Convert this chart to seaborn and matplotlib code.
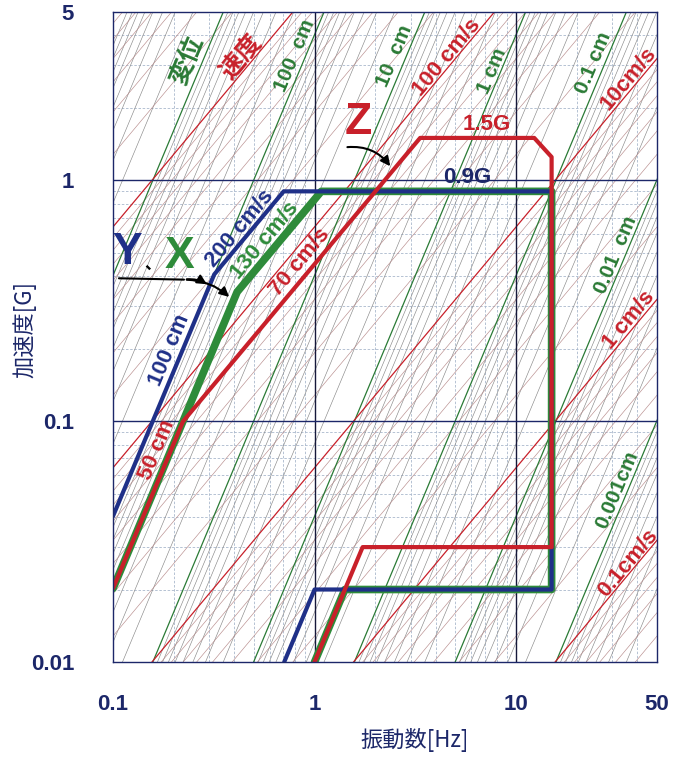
import numpy as np
import pandas as pd
import matplotlib
matplotlib.use("Agg")
import matplotlib.pyplot as plt
import seaborn as sns

# ---------------- data ----------------
x_ticks = [0.1, 1, 10, 50]
x_tick_labels = ["0.1", "1", "10", "50"]
y_ticks = [0.01, 0.1, 1, 5]
y_tick_labels = ["0.01", "0.1", "1", "5"]

# iso-displacement (cm) and iso-velocity (cm/s) reference lines
disp_levels = [1000, 100, 10, 1, 0.1, 0.01, 0.001]
vel_levels = [1000, 100, 10, 1, 0.1]
disp_minor_decades = [1e-5, 1e-4, 1e-3, 1e-2, 1e-1, 1, 10, 100, 1000]
vel_minor_decades = [1e-3, 1e-2, 1e-1, 1, 10, 100, 1000]
minor_mult = [2, 3, 4, 5, 6, 7, 8, 9]

# test envelopes (frequency Hz, acceleration G)
y_freq = [0.1, 0.318, 0.703, 15, 15, 1.0, 0.707]
y_acc = [0.0403, 0.407, 0.9, 0.9, 0.02, 0.02, 0.01]
x_freq = [0.1, 0.413, 1.08, 15, 15, 1.414, 1.0]
x_acc = [0.0202, 0.344, 0.9, 0.9, 0.02, 0.02, 0.01]
z_freq = [0.1, 0.2226, 3.34, 12.3, 15, 15, 1.732, 1.0]
z_acc = [0.0202, 0.0998, 1.5, 1.5, 1.25, 0.03, 0.03, 0.01]

G = 980.665  # cm/s^2
NAVY = "#1c2769"
GREEN = "#2a7a35"
RED = "#c8202a"
BLUE = "#1f3088"
XGREEN = "#2e8b3a"

sns.set_theme(style="white")
plt.rcParams["font.family"] = ["Liberation Sans", "Noto Sans CJK JP", "DejaVu Sans"]

fig = plt.figure(figsize=(6.76, 7.58), dpi=100)
ax = fig.add_axes([113 / 676, 1 - 662 / 758, (657 - 113) / 676, (662 - 12) / 758])
ax.set_xscale("log")
ax.set_yscale("log")
ax.set_xlim(0.1, 50)
ax.set_ylim(0.01, 5)

fr = np.array([0.05, 100.0])


def disp_acc(D):
    return (2 * np.pi * fr) ** 2 * D / G


def vel_acc(V):
    return 2 * np.pi * fr * V / G


# minor background grid
xminor = [m * d for d in [0.1, 1, 10] for m in range(2, 10) if m * d < 50]
yminor = [m * d for d in [0.01, 0.1, 1] for m in range(2, 10) if m * d < 5]
for xv in xminor:
    ax.axvline(xv, color="#a9b8cc", lw=0.6, ls=(0, (3, 2)), zorder=0.5)
for yv in yminor:
    ax.axhline(yv, color="#a9b8cc", lw=0.6, ls=(0, (3, 2)), zorder=0.5)

# intermediate hatch lines
for d in disp_minor_decades:
    for m in minor_mult:
        ax.plot(fr, disp_acc(m * d), color="#8a8a8a", lw=0.45, zorder=1)
for d in vel_minor_decades:
    for m in minor_mult:
        ax.plot(fr, vel_acc(m * d), color="#b88d8d", lw=0.45, zorder=1)

# main iso lines
for D in disp_levels:
    ax.plot(fr, disp_acc(D), color=GREEN, lw=0.9, zorder=2)
for V in vel_levels:
    ax.plot(fr, vel_acc(V), color=RED, lw=0.9, zorder=2)

# major grid
for xv in [1, 10]:
    ax.axvline(xv, color="#15183a", lw=1.0, zorder=2.5)
for yv in [0.1, 1]:
    ax.axhline(yv, color=NAVY, lw=1.0, zorder=2.5)

# envelopes via seaborn
df_x = pd.DataFrame({"f": x_freq, "a": x_acc})
df_y = pd.DataFrame({"f": y_freq, "a": y_acc})
df_z = pd.DataFrame({"f": z_freq, "a": z_acc})
sns.lineplot(data=df_x, x="f", y="a", sort=False, estimator=None, color=XGREEN, lw=5.5, ax=ax, zorder=5)
sns.lineplot(data=df_y, x="f", y="a", sort=False, estimator=None, color=BLUE, lw=3.0, ax=ax, zorder=6)
sns.lineplot(data=df_z, x="f", y="a", sort=False, estimator=None, color=RED, lw=3.0, ax=ax, zorder=7)

ax.set_xlim(0.1, 50)
ax.set_ylim(0.01, 5)
ax.set_xlabel("")
ax.set_ylabel("")

# ticks
ax.set_xticks(x_ticks)
ax.set_xticklabels(x_tick_labels)
ax.set_yticks(y_ticks)
ax.set_yticklabels(y_tick_labels)
ax.minorticks_off()
ax.tick_params(axis="both", length=0, labelsize=16, labelcolor=NAVY)
ax.tick_params(axis="x", pad=23)
ax.tick_params(axis="y", pad=28)
for lab in ax.get_xticklabels() + ax.get_yticklabels():
    lab.set_fontweight("bold")
for s in ax.spines.values():
    s.set_color(NAVY)
    s.set_linewidth(1.0)
    s.set_zorder(10)

cjk = ["Noto Sans CJK JP", "DejaVu Sans"]
fig.text(415 / 676, 1 - 740 / 758, "振動数[Hz]", ha="center", va="center",
         fontsize=16, color=NAVY, family=cjk)
fig.text(25 / 676, 1 - 330 / 758, "加速度[G]", ha="center", va="center", rotation=90,
         fontsize=16, color=NAVY, family=cjk)


def ang(slope):
    p1 = ax.transData.transform((1.0, 1.0))
    p2 = ax.transData.transform((10.0, 10.0 ** slope))
    return np.degrees(np.arctan2(p2[1] - p1[1], p2[0] - p1[0]))


a_d = ang(2)
a_v = ang(1)


def lbl(f, a, s, color, rot, size=15, weight="bold", fam=None):
    kw = {}
    if fam:
        kw["family"] = fam
    ax.text(f, a, s, color=color, rotation=rot, rotation_mode="anchor", ha="center", va="center",
            fontsize=size, fontweight=weight, zorder=9, **kw)


lbl(0.233, 3.15, "変位", GREEN, a_d, 18, fam=cjk)
lbl(0.434, 3.24, "速度", RED, a_v, 18, fam=cjk)
lbl(0.795, 3.3, "100  cm", GREEN, a_d, 15)
lbl(2.5, 3.3, "10  cm", GREEN, a_d, 15)
lbl(4.54, 3.24, "100 cm/s", RED, a_v, 16)
lbl(7.6, 2.86, "1 cm", GREEN, a_d, 15)
lbl(24.2, 3.06, "0.1 cm", GREEN, a_d, 15)
lbl(36.1, 2.65, "10cm/s", RED, a_v, 16)
lbl(31.1, 0.489, "0.01  cm", GREEN, a_d, 15)
lbl(36.1, 0.262, "1 cm/s", RED, a_v, 16)
lbl(31.8, 0.0517, "0.001cm", GREEN, a_d, 15)
lbl(36.1, 0.0258, "0.1cm/s", RED, a_v, 16)

lbl(7.17, 1.71, "1.5G", RED, 0, 16)
lbl(5.7, 1.03, "0.9G", NAVY, 0, 16)

lbl(0.424, 0.632, "200 cm/s", BLUE, a_v, 16)
lbl(0.564, 0.564, "130 cm/s", XGREEN, a_v, 16)
lbl(0.842, 0.457, "70 cm/s", RED, a_v, 16)
lbl(0.190, 0.197, "100 cm", BLUE, a_d, 16)
lbl(0.1656, 0.0758, "50 cm", RED, a_d, 16)

lbl(1.65, 1.74, "Z", RED, 0, 32, weight="bold")
lbl(0.1174, 0.503, "Y", BLUE, 0, 32, weight="bold")
lbl(0.157, 0.452, "、", "black", 0, 12, weight="bold", fam=cjk)
lbl(0.213, 0.484, "X", XGREEN, 0, 32, weight="bold")

# arrows
ax.annotate("", xy=(2.42, 1.12), xytext=(1.41, 1.37),
            arrowprops=dict(arrowstyle="-|>", color="black", lw=1.5,
                            connectionstyle="arc3,rad=-0.3", mutation_scale=14), zorder=9)
ax.plot([0.107, 0.225], [0.392, 0.387], color="black", lw=1.5, zorder=9)
ax.annotate("", xy=(0.300, 0.365), xytext=(0.225, 0.387),
            arrowprops=dict(arrowstyle="-|>", color="black", lw=1.5,
                            connectionstyle="arc3,rad=-0.2", mutation_scale=14), zorder=9)
ax.annotate("", xy=(0.386, 0.322), xytext=(0.225, 0.387),
            arrowprops=dict(arrowstyle="-|>", color="black", lw=1.5,
                            connectionstyle="arc3,rad=-0.2", mutation_scale=14), zorder=9)

fig.savefig("out.png", dpi=100)
